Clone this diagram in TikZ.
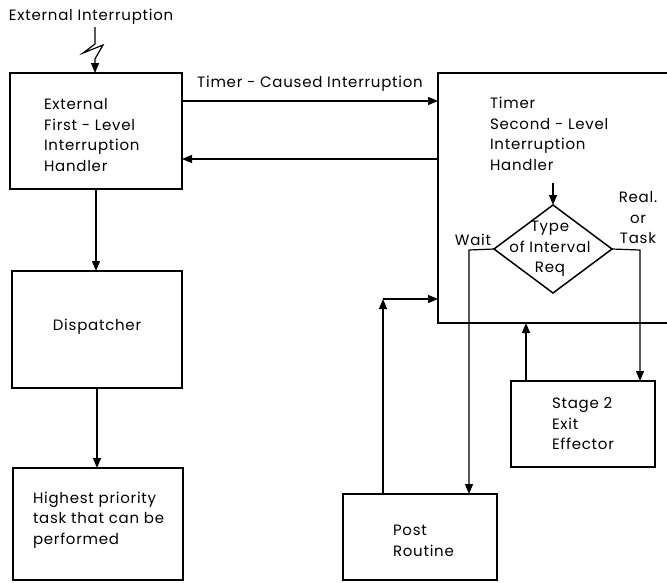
\documentclass[tikz,border=0pt]{standalone}
\usepackage{fontspec}
\setmainfont{Poppins}[LetterSpace=5]
\usetikzlibrary{arrows.meta,shapes.geometric}
\begin{document}
\begin{tikzpicture}[x=1pt,y=-1pt,
  every node/.style={inner sep=0pt, outer sep=0pt},
  txt/.style={font=\fontsize{15}{20.5}\selectfont, align=left},
  box/.style={draw, line width=1.5pt, anchor=north west},
  link/.style={line width=1.2pt},
  arr/.style={link, -{Triangle[length=10pt,width=8pt]}}]
\useasboundingbox (0,0) rectangle (667,582);

% boxes
\node[box, minimum width=172pt, minimum height=116pt] (flih) at (10,73) {};
\node[box, minimum width=170pt, minimum height=117pt] (disp) at (12,271) {};
\node[box, minimum width=170pt, minimum height=112pt] (high) at (13,468) {};
\node[box, minimum width=240pt, minimum height=250pt] (timer) at (438,73) {};
\node[box, minimum width=144pt, minimum height=86pt] (stage) at (511,381) {};
\node[box, minimum width=154pt, minimum height=86pt] (post) at (343,494) {};
\node[draw, line width=1.5pt, diamond, minimum width=118pt, minimum height=88pt] (dia) at (553,249) {};

% texts
\node[txt, anchor=west] (ext) at (9,17) {External Interruption};
\node[txt, anchor=west] (flihT) at (44,135) {External\\First - Level\\Interruption\\Handler};
\node[txt] (dispT) at (97,327) {Dispatcher};
\node[txt, anchor=west] (highT) at (33,520) {Highest priority\\task that can be\\performed};
\node[txt, anchor=west] (timerT) at (490,134) {Timer\\Second - Level\\Interruption\\Handler};
\node[txt, align=center] (diaT) at (550,249) {Type\\of Interval\\Req};
\node[txt, anchor=west] (stageT) at (552,424) {Stage 2\\Exit\\Effector};
\node[txt, anchor=west] (postT) at (393,541) {Post\\Routine};
\node[txt] (tci) at (310,84) {Timer - Caused Interruption};
\node[txt] (wait) at (473,240) {Wait};
\node[txt, align=center] (real) at (638,218) {Real.\\or\\Task};

% helper points
\coordinate (zz) at (95,27);
\coordinate (yA) at (0,101);
\coordinate (yB) at (0,159);
\coordinate (yC) at (0,299);
\coordinate (dtop) at (553,183);
\coordinate (wc) at (469,250);
\coordinate (rc) at (640,250);
\coordinate (pc) at (383,299);

% incoming external interruption
\draw[arr] (zz) -- (95,44) -- (83,53) -- (103,45) -- (95,59) -- (flih.north -| 95,0);

% connectors
\draw[arr] (flih.east |- yA) -- (timer.west |- yA);
\draw[arr] (timer.west |- yB) -- (flih.east |- yB);
\draw[arr] (flih.south) -- (disp.north -| flih.south);
\draw[arr] (disp.south) -- (high.north -| disp.south);
\draw[arr] (dtop) -- (dia.north);
\draw[arr] (dia.west) -- (wc) -- (post.north -| wc);
\draw[arr] (dia.east) -- (rc) -- (stage.north -| rc);
\draw[arr] (stage.north -| 526,0) -- (timer.south -| 526,0);
\draw[arr] (post.north -| pc) -- (pc);
\draw[arr] (pc) -- (timer.west |- yC);
\end{tikzpicture}
\end{document}
